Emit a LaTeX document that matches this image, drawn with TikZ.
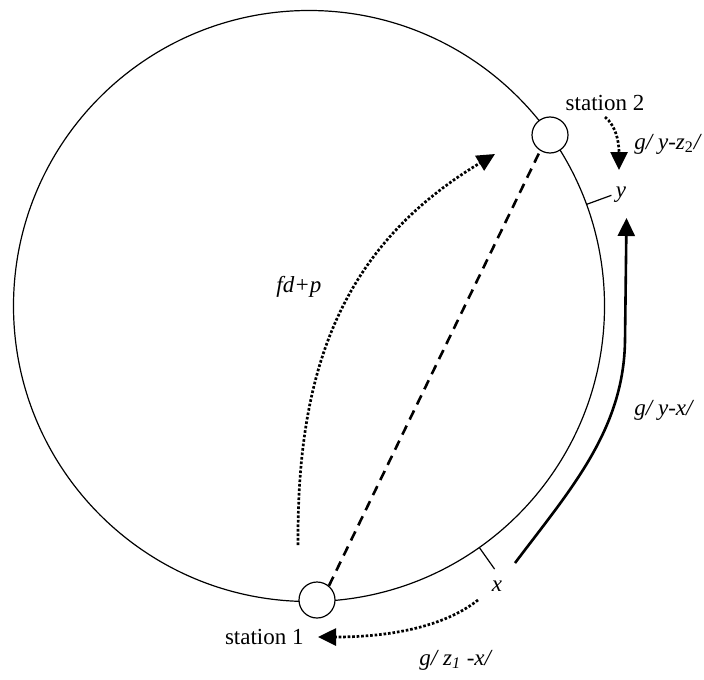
\documentclass[tikz,border=0pt]{standalone}
\usepackage{fontspec}
\setmainfont{Liberation Serif}
\usetikzlibrary{arrows.meta}
\begin{document}
\begin{tikzpicture}[x=0.5pt,y=-0.5pt,
  ring/.style={line width=0.6pt},
  stationnode/.style={circle,draw,line width=0.6pt,fill=white,minimum size=18pt,inner sep=0pt},
  tri/.style={-{Triangle[length=9pt,width=8.5pt]}},
  dotline/.style={line width=1.35pt,dash pattern=on 1.3pt off 0.95pt},
  dashline/.style={line width=1.3pt,dash pattern=on 5pt off 3.4pt},
  lbl/.style={font=\fontsize{11.5}{13}\selectfont,inner sep=0pt},
  ilbl/.style={lbl,font=\fontsize{11.5}{13}\selectfont\itshape}]
\useasboundingbox (0,0) rectangle (704,679);
\coordinate (C) at (309,306);
\draw[ring] (C) circle[radius=147.75pt];
% ticks
\coordinate (ty1) at (586.5,204.4);
\coordinate (ty2) at (611.4,195.3);
\coordinate (tx1) at (479.3,547.5);
\coordinate (tx2) at (494.6,569.1);
\draw[ring] (ty1) -- (ty2);
\draw[ring] (tx1) -- (tx2);
% stations
\node[stationnode] (s1) at (317,600) {};
\node[stationnode] (s2) at (550,135) {};
\draw[dashline] (s1.50) -- (s2.238);
% labels
\node[lbl,anchor=center] (st2) at (605,103) {station 2};
\node[lbl,anchor=east] (st1) at (304,637) {station 1};
\node[ilbl,anchor=west] (lyz) at (634,144) {g/ y-z\textsubscript{\upshape 2}/};
\node[ilbl] (ly) at (621,195) {y};
\node[ilbl] (lx) at (497,586) {x};
\node[ilbl,anchor=west] (lyx) at (634,410) {g/ y-x/};
\node[ilbl,anchor=west] (lzx) at (419,660) {g/ z\textsubscript{1} -x/};
\node[ilbl,anchor=west] (lfd) at (276,287) {fd+p};
% arrows
\coordinate (a1s) at (298,545);
\coordinate (a1e) at (495,154);
\draw[dotline,tri] (a1s) .. controls (297,380) and (335,250) .. (a1e);
\coordinate (a2s) at (515,563);
\coordinate (a2m) at (625,340);
\coordinate (a2e) at (626.5,218);
\draw[line width=1.3pt,tri] (a2s) .. controls (570,490) and (624,430) .. (a2m) -- (a2e);
\coordinate (a3s) at (605,117);
\coordinate (a3e) at (619,170);
\draw[dotline,tri] (a3s) .. controls (615,125) and (619,140) .. (a3e);
\coordinate (a4s) at (478,600);
\coordinate (a4e) at (318,637);
\draw[dotline,tri] (a4s) .. controls (440,630) and (380,637) .. (a4e);
\end{tikzpicture}
\end{document}
